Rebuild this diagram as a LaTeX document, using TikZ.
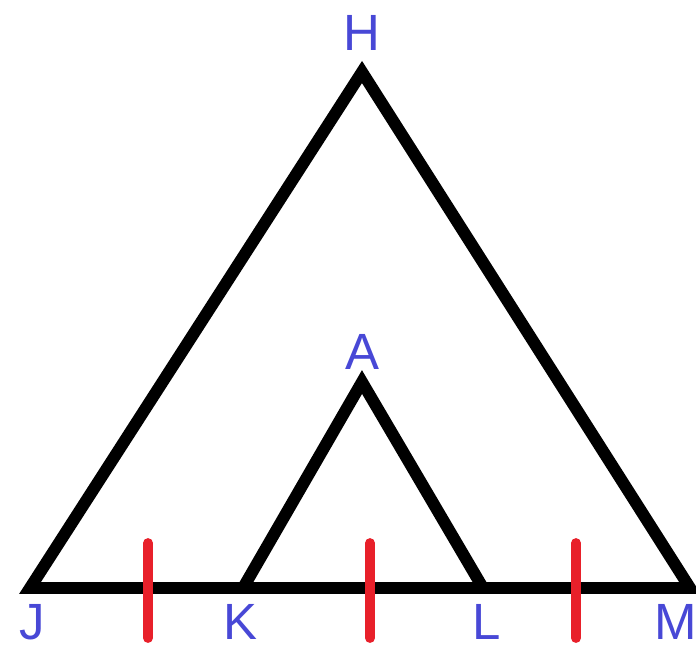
\documentclass[tikz,border=0pt]{standalone}
\usepackage{fontspec}
\setmainfont{Liberation Sans}
\usepackage{tikz}
\usetikzlibrary{positioning}
\definecolor{labelblue}{HTML}{4848D6}
\definecolor{tickred}{HTML}{E8202A}

\begin{document}
\begin{tikzpicture}[
			x=0.02cm, y=-0.02cm,
			font=\fontsize{29}{30}\selectfont,
			side/.style={draw=black, line width=6.8pt, line join=miter, line cap=round},
			tick/.style={draw=tickred, line width=5.6pt, line cap=round},
			lbl/.style={text=labelblue, inner sep=0pt}
			]
			\useasboundingbox (0,0) rectangle (696,650);

			\coordinate (H) at (362,72);
			\coordinate (J) at (30,588);
			\coordinate (M) at (690,588);
			\coordinate (K) at (243,588);
			\coordinate (L) at (483,588);
			\coordinate (A) at (362,382);

			\draw[side] (J) -- (H) -- (M) -- cycle;
			\draw[side] (K) -- (A) -- (L);

			\foreach \x in {148, 370, 576} {
				\draw[tick] (\x,543) -- (\x,638);
			}

			\node[lbl] (labH) at (362,33) {H};
			\node[lbl] (labA) at (362,352) {A};
			\node[lbl] (labJ) at (32,622) {J};
			\node[lbl] (labK) at (240,622) {K};
			\node[lbl] (labL) at (487,622) {L};
			\node[lbl] (labM) at (676,622) {M};

		\end{tikzpicture}
\end{document}
